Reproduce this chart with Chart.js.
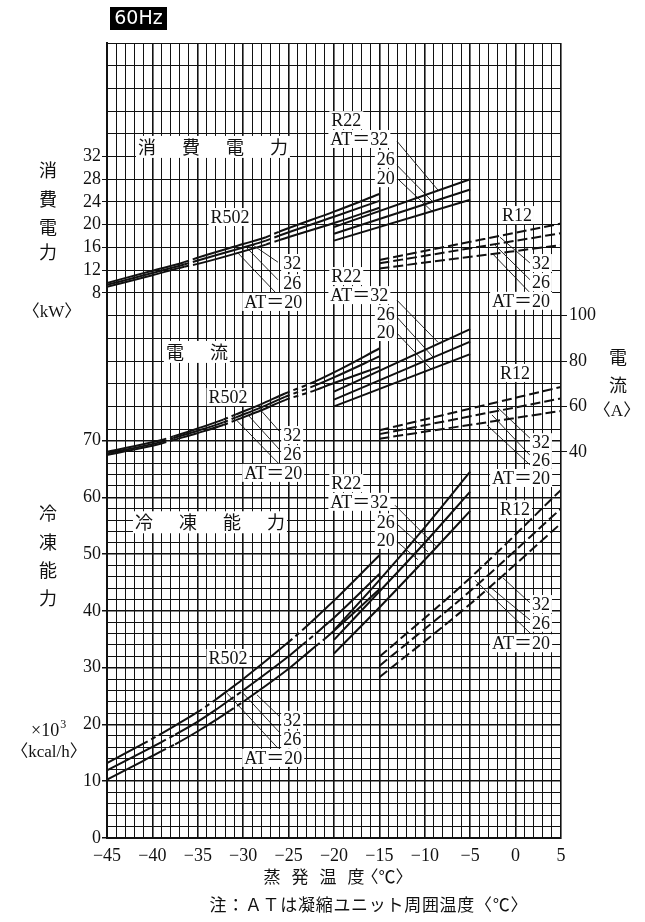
<!DOCTYPE html>
<html>
<head>
<meta charset="utf-8">
<script src="https://cdn.jsdelivr.net/npm/chart.js@4.4.1/dist/chart.umd.min.js"></script>
<style>
  html, body { margin: 0; padding: 0; background: #fff; }
  #wrap { position: relative; width: 645px; height: 922px; }
</style>
</head>
<body>
<div id="wrap"><canvas id="chart" width="645" height="922"></canvas></div>
<script>
// --- 軸の目盛 ---
const tempTicks = [-45, -40, -35, -30, -25, -20, -15, -10, -5, 0, 5];
const capTicks = [0, 10, 20, 30, 40, 50, 60, 70];       // ×10^3 kcal/h
const kwTicks = [8, 12, 16, 20, 24, 28, 32];             // kW
const ampTicks = [40, 60, 80, 100];                      // A
const atLevels = [32, 26, 20];                           // AT (℃)

// --- 消費電力 (kW) ---
const kwR502Temp = [-45, -40, -36.5, -35, -30, -27.5, -26, -20, -15];
const kwR502 = [
  [9.75, 11.9, 13.4, 14.2, 16.6, 17.8, 18.8, 22.3, 25.4],
  [9.4, 11.5, 13.0, 13.7, 16.0, 17.2, 18.1, 21.4, 24.2],
  [9.05, 11.1, 12.6, 13.1, 15.3, 16.5, 17.3, 20.3, 23.0]
];
const kwR22Temp = [-20, -5];
const kwR22 = [[19.6, 28.0], [18.4, 26.2], [17.2, 24.4]];
const kwR12Temp = [-15, 5];
const kwR12 = [[13.8, 20.2], [13.2, 18.5], [12.3, 16.4]];

// --- 電流 (A) ---
const ampR502Temp = [-45, -39, -37.7, -35, -32.2, -30.8, -28, -25.4, -22.6, -20, -15];
const ampR502 = [
  [40.0, 45.2, 46.8, 50.3, 54.2, 56.5, 61.0, 65.7, 70.1, 75.0, 85.5],
  [39.3, 44.4, 46.0, 49.3, 53.0, 55.2, 59.6, 64.2, 68.4, 72.8, 82.0],
  [38.6, 43.7, 45.2, 48.3, 51.8, 54.0, 58.3, 62.8, 66.4, 70.3, 77.4]
];
const ampR22Temp = [-20, -5];
const ampR22 = [[66.5, 94.0], [63.0, 88.5], [60.0, 83.0]];
const ampR12Temp = [-15, 5];
const ampR12 = [[49.5, 68.6], [47.8, 63.5], [45.8, 58.0]];

// --- 冷凍能力 (×10^3 kcal/h) ---
const capR502Temp = [-45, -41, -39, -37.5, -35, -33, -31.5, -30, -25, -23.5, -22, -21, -20, -15];
const capR502 = [
  [13.2, 16.6, 18.4, 19.8, 22.2, 24.4, 26.2, 28.0, 34.5, 36.6, 38.8, 40.3, 41.8, 49.8],
  [11.9, 15.2, 16.9, 18.2, 20.5, 22.6, 24.3, 26.0, 32.0, 34.0, 36.0, 37.4, 38.8, 46.5],
  [10.3, 13.6, 15.3, 16.5, 18.8, 20.8, 22.4, 24.0, 29.8, 31.8, 33.8, 35.1, 36.5, 43.8]
];
const capR22Temp = [-20, -15, -10, -5];
const capR22 = [[36.6, 45.4, 54.7, 64.5], [34.9, 43.4, 52.0, 61.0], [32.5, 40.6, 49.0, 57.6]];
const capR12Temp = [-15, -5, 5];
const capR12 = [[31.9, 45.8, 61.3], [30.3, 43.5, 58.0], [28.3, 41.2, 55.4]];

// 軸の範囲 (3つの目盛を同じ方眼に重ねる)
const TEMP_MIN = -45, TEMP_MAX = 5;
const CAP_MIN = 0, CAP_MAX = 140;
const KW_MIN = -88, KW_MAX = 52;
const AMP_MIN = -130, AMP_MAX = 220;

// R502 の線の切れ目 (破線で描く区間)
const kwR502Breaks = [[[-36.5, -35], [-27.5, -26]], [[-36.5, -35], [-27.5, -26]], [[-36.5, -35], [-27.5, -26]]];
const ampR502Breaks = [
  [[-39, -37.7], [-32.2, -30.8], [-25.4, -22.6]],
  [[-39, -37.7], [-32.2, -30.8], [-25.4, -22.6]],
  [[-39, -37.7], [-32.2, -30.8], [-25.4, -22.6]]
];
const capR502Breaks = [
  [[-41, -39], [-35, -33], [-25, -23.5]],
  [[-39, -37.5], [-31.5, -30], [-23.5, -22]],
  [[-39, -37.5], [-31.5, -30], [-22, -21]]
];

const INK = '#111';
const NUM_FONT = '"Liberation Serif", "Noto Sans CJK JP", serif';
const JP_FONT = '"Noto Sans CJK JP", sans-serif';

const datasets = [];
function addGroup(temps, rows, axisId, dashed, breaks) {
  rows.forEach((vals, i) => {
    const gaps = breaks ? breaks[i] : [];
    datasets.push({
      label: axisId + ' AT=' + atLevels[i],
      data: temps.map((t, k) => ({ x: t, y: vals[k] })),
      yAxisID: axisId,
      borderColor: INK,
      borderWidth: 2,
      borderDash: dashed ? [10, 4] : [],
      pointRadius: 0,
      cubicInterpolationMode: 'monotone',
      segment: {
        borderDash: c => gaps.some(([a, b]) => c.p0.parsed.x >= a - 1e-6 && c.p1.parsed.x <= b + 1e-6) ? [5, 4] : undefined
      }
    });
  });
}
addGroup(kwR502Temp, kwR502, 'yKW', false, kwR502Breaks);
addGroup(kwR22Temp, kwR22, 'yKW', false);
addGroup(kwR12Temp, kwR12, 'yKW', true);
addGroup(ampR502Temp, ampR502, 'yA', false, ampR502Breaks);
addGroup(ampR22Temp, ampR22, 'yA', false);
addGroup(ampR12Temp, ampR12, 'yA', true);
addGroup(capR502Temp, capR502, 'y', false, capR502Breaks);
addGroup(capR22Temp, capR22, 'y', false);
addGroup(capR12Temp, capR12, 'y', true);

// 図中の注記 [文字, 温度, 主目盛上の位置, 揃え]
const notes = [
  ['R502', -31.45, 109.35, 'center'], ['32', -25.6, 101.25, 'left'], ['26', -25.6, 97.7, 'left'], ['AT＝20', -23.5, 94.4, 'right'],
  ['R22', -20.3, 126.4, 'left'], ['AT＝32', -20.4, 123.1, 'left'], ['26', -13.3, 119.6, 'right'], ['20', -13.3, 116.2, 'right'],
  ['R12', -1.5, 109.7, 'left'], ['32', 1.8, 101.25, 'left'], ['26', 1.8, 97.9, 'left'], ['AT＝20', 3.8, 94.6, 'right'],
  ['R502', -31.67, 77.65, 'center'], ['32', -25.6, 70.96, 'left'], ['26', -25.6, 67.6, 'left'], ['AT＝20', -23.5, 64.3, 'right'],
  ['R22', -20.3, 98.96, 'left'], ['AT＝32', -20.4, 95.6, 'left'], ['26', -13.3, 92.3, 'right'], ['20', -13.3, 89.1, 'right'],
  ['R12', -1.72, 81.9, 'left'], ['32', 1.8, 69.7, 'left'], ['26', 1.8, 66.6, 'left'], ['AT＝20', 3.8, 63.4, 'right'],
  ['R22', -20.3, 62.5, 'left'], ['AT＝32', -20.4, 59.2, 'left'], ['26', -13.3, 55.6, 'right'], ['20', -13.3, 52.5, 'right'],
  ['R12', -1.72, 57.9, 'left'], ['32', 1.8, 41.2, 'left'], ['26', 1.8, 37.9, 'left'], ['AT＝20', 3.8, 34.3, 'right'],
  ['R502', -31.67, 31.7, 'center'], ['32', -25.6, 20.8, 'left'], ['26', -25.6, 17.3, 'left'], ['AT＝20', -23.5, 14.1, 'right']
];
// 引出線 [温度1, 位置1, 温度2, 位置2]
const leaders = [
  [-26.17, 101.4, -28.92, 104.4], [-26.17, 98.3, -29.58, 103.9], [-26.17, 95.6, -30.57, 103.0],
  [-13.06, 122.7, -8.55, 114.1], [-13.39, 119.0, -9.1, 112.0], [-13.06, 116.2, -9.1, 110.2],
  [1.59, 101.25, -1.72, 105.8], [1.59, 98.3, -2.27, 104.4], [1.59, 96.0, -2.6, 103.0],
  [-25.95, 71.5, -28.15, 75.5], [-25.95, 68.3, -29.47, 74.5], [-25.95, 65.7, -30.68, 73.5],
  [-13.06, 94.7, -8.55, 87.3], [-13.06, 91.7, -9.1, 84.7], [-13.06, 88.9, -9.21, 82.4],
  [1.59, 70.4, -2.05, 75.9], [1.59, 67.4, -2.6, 74.5], [1.59, 65.7, -3.15, 72.7],
  [-13.28, 58.6, -8.66, 51.2], [-13.28, 55.6, -9.65, 50.4], [-13.28, 52.5, -10.75, 49.0],
  [1.59, 41.4, -1.39, 45.8], [1.59, 38.4, -3.04, 44.5], [1.59, 36.1, -4.47, 45.4],
  [-25.95, 21.3, -28.48, 25.2], [-25.95, 18.5, -30.02, 25.5], [-26.17, 15.8, -31.78, 25.5]
];
// 区分の見出し [文字, 温度(中心), 位置]
const sectionTitles = [['消費電力', -33.33, 121.7], ['電流', -35.1, 85.6], ['冷凍能力', -33.66, 55.6]];

function spaced(ctx, chars, cx, cy, pitch) {
  const n = chars.length;
  chars.forEach((ch, i) => ctx.fillText(ch, cx + (i - (n - 1) / 2) * pitch, cy));
}

const decor = {
  id: 'decor',
  beforeDatasetsDraw(chart) {
    const { ctx, scales } = chart;
    const px = t => scales.x.getPixelForValue(t);
    const py = v => scales.y.getPixelForValue(v);
    ctx.save();
    ctx.strokeStyle = INK;
    ctx.lineWidth = 0.9;
    leaders.forEach(([t1, v1, t2, v2]) => {
      ctx.beginPath();
      ctx.moveTo(px(t1), py(v1));
      ctx.lineTo(px(t2), py(v2));
      ctx.stroke();
    });
    ctx.font = '18px ' + NUM_FONT;
    ctx.textBaseline = 'middle';
    ctx.textAlign = 'left';
    notes.forEach(([text, t, v, align]) => {
      const x = px(t), y = py(v);
      const w = ctx.measureText(text).width;
      const left = align === 'left' ? x : align === 'right' ? x - w : x - w / 2;
      ctx.fillStyle = '#fff';
      ctx.fillRect(left - 2, y - 9, w + 4, 18);
      ctx.fillStyle = INK;
      ctx.fillText(text, left, y + 1);
    });
    ctx.font = '18px ' + JP_FONT;
    ctx.textAlign = 'center';
    sectionTitles.forEach(([text, t, v]) => {
      const chars = [...text];
      const pitch = 44;
      const cx = px(t), cy = py(v);
      const half = ((chars.length - 1) * pitch) / 2 + 11;
      ctx.fillStyle = '#fff';
      ctx.fillRect(cx - half, cy - 11, half * 2, 22);
      ctx.fillStyle = INK;
      spaced(ctx, chars, cx, cy, pitch);
    });
    ctx.restore();
  },
  afterDraw(chart) {
    const { ctx } = chart;
    ctx.save();
    // 60Hz
    ctx.fillStyle = '#000';
    ctx.fillRect(110, 7, 57, 23);
    ctx.fillStyle = '#fff';
    ctx.font = '19px "DejaVu Sans", sans-serif';
    ctx.textAlign = 'center';
    ctx.textBaseline = 'middle';
    ctx.fillText('60Hz', 138.5, 19);

    ctx.fillStyle = INK;
    ctx.font = '18px ' + JP_FONT;
    [['消', 170], ['費', 199], ['電', 227], ['力', 252]].forEach(([c, y]) => ctx.fillText(c, 48, y));
    [['冷', 513], ['凍', 542], ['能', 570], ['力', 598]].forEach(([c, y]) => ctx.fillText(c, 48, y));
    [['電', 357], ['流', 385]].forEach(([c, y]) => ctx.fillText(c, 618, y));

    ctx.font = '17px ' + NUM_FONT;
    ctx.fillText('〈kW〉', 52, 313);
    ctx.fillText('〈A〉', 617, 412);
    ctx.fillText('〈kcal/h〉', 49, 753);

    ctx.textAlign = 'left';
    ctx.font = '18px ' + NUM_FONT;
    const base = '×10';
    const bw = ctx.measureText(base).width;
    ctx.fillText(base, 31, 731);
    ctx.font = '12px ' + NUM_FONT;
    ctx.fillText('3', 31 + bw + 1, 725);

    // 横軸の見出しと注
    ctx.font = '17px ' + JP_FONT;
    ctx.textAlign = 'center';
    spaced(ctx, ['蒸', '発', '温', '度'], 314, 877, 28);
    ctx.fillText('〈℃〉', 387, 877);
    const note = [...'注：ＡＴは凝縮ユニット周囲温度〈℃〉'];
    note.forEach((c, i) => ctx.fillText(c, 218 + i * 17.7, 905));
    ctx.restore();
  }
};

const yTickList = [];
for (let v = CAP_MIN; v <= 72; v += 2) yTickList.push(v);
for (let v = 76; v <= CAP_MAX; v += 4) yTickList.push(v);
const xTickList = [];
for (let t = TEMP_MIN; t <= TEMP_MAX; t += 1) xTickList.push(t);

new Chart(document.getElementById('chart'), {
  type: 'line',
  data: { datasets },
  options: {
    responsive: false,
    animation: false,
    events: [],
    layout: { padding: { top: 43, left: 0, right: 0, bottom: 0 } },
    plugins: { legend: { display: false }, tooltip: { enabled: false } },
    scales: {
      x: {
        type: 'linear', min: TEMP_MIN, max: TEMP_MAX,
        afterBuildTicks: s => { s.ticks = xTickList.map(value => ({ value })); },
        afterFit: s => { s.height = 84; },
        grid: {
          color: INK,
          lineWidth: c => (c.tick && c.tick.value % 5 === 0 ? 1.6 : 1),
          drawTicks: false
        },
        border: { color: INK, width: 2 },
        ticks: {
          autoSkip: false, maxRotation: 0, padding: 7, color: INK,
          font: { family: NUM_FONT, size: 18 },
          callback: v => tempTicks.includes(v) ? (v < 0 ? '−' + Math.abs(v) : String(v)) : ''
        }
      },
      y: {
        type: 'linear', position: 'left', min: CAP_MIN, max: CAP_MAX,
        afterBuildTicks: s => { s.ticks = yTickList.map(value => ({ value })); },
        afterFit: s => { s.width = 107; },
        grid: {
          color: INK,
          lineWidth: c => (c.tick && c.tick.value <= 70 && c.tick.value % 10 === 0 ? 1.5 : 1),
          tickLength: 5,
          tickColor: c => {
            const v = c.tick ? c.tick.value : NaN;
            return capTicks.includes(v) || kwTicks.includes(v + KW_MIN) ? INK : 'rgba(0,0,0,0)';
          }
        },
        border: { color: INK, width: 2 },
        ticks: {
          autoSkip: false, padding: 1, color: INK,
          font: { family: NUM_FONT, size: 18 },
          callback: v => capTicks.includes(v) ? String(v) : (kwTicks.includes(v + KW_MIN) ? String(v + KW_MIN) : '')
        }
      },
      yKW: { type: 'linear', display: false, min: KW_MIN, max: KW_MAX },
      yA: {
        type: 'linear', position: 'right', min: AMP_MIN, max: AMP_MAX,
        afterBuildTicks: s => { s.ticks = ampTicks.map(value => ({ value })); },
        afterFit: s => { s.width = 84; },
        grid: { drawOnChartArea: false, color: INK, tickLength: 6 },
        border: { display: false },
        ticks: {
          autoSkip: false, padding: 2, color: INK,
          font: { family: NUM_FONT, size: 18 }
        }
      }
    }
  },
  plugins: [decor]
});
</script>
</body>
</html>
